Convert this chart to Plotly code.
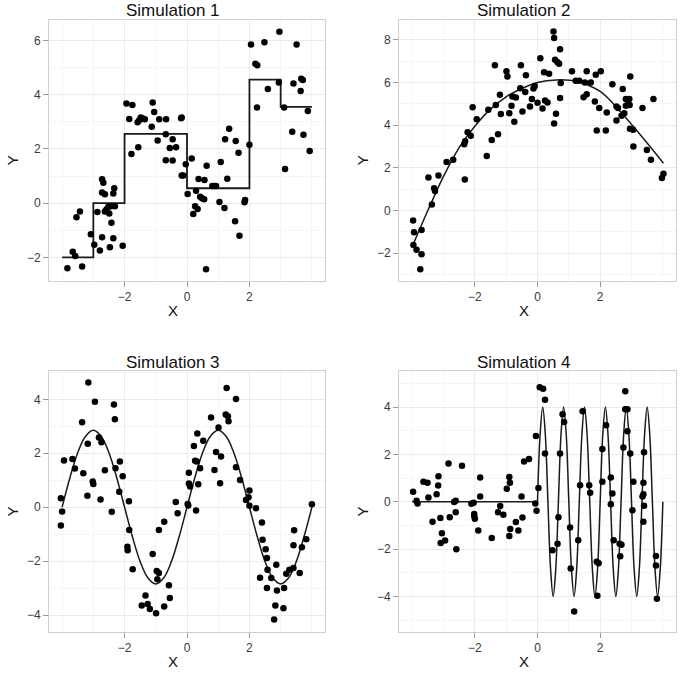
import plotly.graph_objects as go

# ---------------- Simulation 1 ----------------
s1_x = [-3.83, -3.66, -3.58, -3.54, -3.43, -3.36, -3.08, -2.97, -2.87, -2.79, -2.72, -2.68, -2.72, -2.63,
        -2.72, -2.63, -2.58, -2.52, -2.49, -2.47, -2.44, -2.42, -2.36, -2.33, -2.36, -2.31, -2.06,
        -1.94, -1.75, -1.85, -1.78, -1.58, -1.53, -1.48, -1.43, -1.35, -1.56, -1.13, -1.10, -1.05, -0.94,
        -0.89, -0.67, -0.68, -0.68, -0.55, -0.46, -0.46, -0.35, -0.19, -0.17, -0.17, -0.12, -0.04,
        0.02, 0.15, 0.20, 0.26, 0.29, 0.34, 0.37, 0.42, 0.48, 0.55, 0.56, 0.61, 0.63, 0.81, 0.87, 0.93,
        1.04, 1.08, 1.20, 1.22, 1.29, 1.35, 1.54, 1.56, 1.65, 1.68, 1.84, 1.86,
        2.00, 2.05, 2.19, 2.25, 2.24, 2.48, 2.59, 2.96, 2.94, 3.11, 3.14, 3.37, 3.41, 3.51, 3.64, 3.66,
        3.71, 3.73, 3.87, 3.93]
s1_y = [-2.40, -1.79, -1.95, -0.52, -0.31, -2.34, -1.15, -1.53, -0.33, -1.75, 0.88, 0.75, 0.39, 0.33,
        -1.26, -0.31, -0.23, -0.13, -0.38, -1.63, -0.11, -0.72, 0.36, 0.55, -1.29, -0.11, -1.57,
        3.67, 3.62, 3.10, 1.81, 2.98, 3.06, 3.16, 3.13, 3.09, 2.06, 2.82, 3.71, 3.36, 2.31,
        3.09, 3.09, 2.54, 1.58, 2.03, 2.36, 1.57, 2.06, 3.13, 3.16, 1.02, 1.02, 1.43,
        0.34, 1.65, -0.40, -0.11, 0.46, -0.22, 0.89, 0.24, 0.18, 0.14, 0.85, -2.44, 1.38, 0.63, 0.63, 0.63,
        0.04, 1.52, -0.18, 2.36, 0.90, 2.74, -0.67, 2.29, 1.86, -1.20, 0.03, 0.12,
        2.15, 5.85, 5.14, 5.08, 3.53, 5.93, 4.21, 6.32, 4.45, 3.53, 1.26, 2.63, 4.41, 5.85, 4.13, 4.59,
        4.54, 2.52, 3.40, 1.92]
s1_line_x = [-4.0, -3.0, -2.0, 0.0, 2.0, 3.0, 4.0]
s1_line_y = [-2.0, 0.0, 2.55, 0.55, 4.55, 3.55, 3.55]

# ---------------- Simulation 2 ----------------
s2_x = [-3.97, -3.94, -3.96, -3.86, -3.74, -3.70, -3.70, -3.48, -3.37, -3.30, -3.27, -3.16, -2.90, -2.69,
        -2.32, -2.34, -2.31, -2.23, -2.13, -2.07, -1.94, -1.62, -1.57, -1.46, -1.36, -1.33, -1.26, -1.20,
        -1.17, -0.99, -0.96, -0.90, -0.83, -0.80, -0.74, -0.69, -0.55, -0.53, -0.48, -0.39, -0.37, -0.24,
        -0.18, -0.13, -0.09, 0.00, 0.09, 0.16, 0.21, 0.24, 0.32, 0.37, 0.51, 0.53, 0.53, 0.59, 0.56, 0.64,
        0.69, 0.72, 0.72, 0.74, 1.10, 1.22, 1.33, 1.47, 1.51, 1.57, 1.57, 1.70, 1.83, 1.86, 1.89, 1.97,
        2.02, 2.18, 2.21, 2.39, 2.52, 2.52, 2.57, 2.68, 2.72, 2.77, 2.82, 2.82, 2.87, 2.93, 2.94, 2.96,
        2.95, 3.05, 3.06, 3.35, 3.49, 3.62, 3.70, 3.97, 4.02]
s2_y = [-0.47, -1.02, -1.61, -1.84, -2.75, -2.05, -0.91, 1.55, 0.28, 1.05, 0.92, 1.64, 2.28, 2.38,
        1.45, 3.11, 3.25, 3.67, 3.50, 4.84, 4.28, 2.56, 4.72, 3.31, 6.81, 4.95, 3.58, 5.42,
        4.52, 6.53, 6.28, 4.56, 4.91, 5.34, 4.16, 5.30, 5.73, 6.81, 4.64, 5.55, 6.34, 4.88,
        5.23, 5.72, 5.84, 5.05, 7.14, 4.78, 6.48, 5.16, 5.06, 6.41, 8.39, 8.08, 4.08, 4.53, 7.06, 6.95,
        6.88, 7.56, 5.27, 5.97, 6.52, 6.08, 6.08, 5.31, 6.00, 5.45, 6.52, 6.00, 5.11, 6.36, 3.75, 4.80,
        6.52, 3.75, 4.59, 5.92, 4.88, 4.22, 4.80, 4.44, 5.70, 4.56, 4.91, 5.23, 5.19, 5.23, 4.95, 6.28,
        3.83, 3.78, 3.00, 4.80, 2.84, 2.38, 5.23, 1.52, 1.72]
s2_line_x = [-3.96, -3.5, -3.0, -2.5, -2.0, -1.5, -1.0, -0.5, 0.0, 0.6, 1.25, 2.0, 2.64, 3.28, 4.02]
s2_line_y = [-1.56, 0.0, 1.6, 2.95, 3.95, 4.75, 5.33, 5.72, 6.0, 6.12, 6.05, 5.58, 4.64, 3.55, 2.22]

# ---------------- Simulation 3 ----------------
s3_x = [-4.04, -4.00, -4.04, -3.94, -3.67, -3.59, -3.36, -3.32, -3.19, -3.18, -3.16, -3.02, -3.00, -2.95,
        -2.82, -2.77, -2.74, -2.63, -2.41, -2.34, -2.31, -2.29, -2.15, -2.17, -2.06, -1.86, -1.85, -1.91,
        -1.90, -1.74, -1.45, -1.33, -1.26, -1.19, -1.10, -0.99, -0.97, -0.95, -0.90, -0.90, -0.73, -0.73,
        -0.58, -0.55, -0.36, -0.30, 0.02, 0.04, 0.06, 0.06, 0.10, 0.22, 0.26, 0.29, 0.31, 0.33, 0.36,
        0.42, 0.52, 0.77, 0.88, 0.93, 1.01, 1.06, 1.09, 1.24, 1.27, 1.31, 1.33, 1.57, 1.57, 1.70, 1.89,
        1.97, 2.00, 2.00, 2.21, 2.34, 2.40, 2.42, 2.52, 2.56, 2.58, 2.56, 2.70, 2.79, 2.83, 2.86, 2.88,
        3.09, 3.11, 3.18, 3.28, 3.41, 3.43, 3.41, 3.61, 3.68, 3.82, 4.00]
s3_y = [0.33, -0.16, -0.68, 1.73, 1.79, 1.43, 3.15, 1.26, 0.42, 2.35, 4.62, 0.95, 0.86, 3.91,
        2.58, 0.28, 2.41, 1.37, -0.17, 3.81, 3.26, 1.44, 1.69, 0.57, 1.15, 0.22, -0.85, -1.47,
        -1.60, -2.30, -3.65, -3.28, -3.59, -3.78, -1.74, -3.93, -2.37, -2.67, -2.44, -0.85, -3.68, -0.54,
        -2.90, -3.37, 0.19, -0.23, 0.12, 0.06, 1.28, 0.88, 0.77, 2.27, 1.72, -0.12, 1.69, 2.73, 0.85,
        1.44, 2.46, 3.33, 1.38, 2.05, 2.95, 0.89, 1.88, 3.44, 4.42, 3.37, 3.19, 4.01, 1.48, 1.01, 0.27,
        0.37, 0.62, 0.05, -0.04, -2.62, -0.57, -1.21, -1.56, -1.89, -2.32, -3.00, -2.63, -4.17, -3.65, -2.14, -3.09,
        -3.75, -3.00, -2.47, -2.32, -2.26, -0.86, -1.41, -2.44, -1.49, -1.19, 0.11]
s3_line_x = [-4.0, -3.75, -3.5, -3.25, -3.0, -2.75, -2.5, -2.25, -2.0, -1.75, -1.5, -1.25, -1.0, -0.75,
             -0.5, -0.25, 0.0, 0.25, 0.5, 0.75, 1.0, 1.25, 1.5, 1.75, 2.0, 2.25, 2.5, 2.75, 3.0, 3.25,
             3.5, 3.75, 4.0]
s3_line_y = [0.0, 1.09, 2.02, 2.63, 2.85, 2.63, 2.02, 1.09, 0.0, -1.09, -2.02, -2.63, -2.85, -2.63,
             -2.02, -1.09, 0.0, 1.09, 2.02, 2.63, 2.85, 2.63, 2.02, 1.09, 0.0, -1.09, -2.02, -2.63, -2.85, -2.63,
             -2.02, -1.09, 0.0]

# ---------------- Simulation 4 ----------------
s4_x = [-3.97, -3.86, -3.83, -3.64, -3.51, -3.48, -3.35, -3.22, -3.17, -3.16, -3.10, -3.05, -3.09, -2.95,
        -2.84, -2.80, -2.66, -2.61, -2.59, -2.61, -2.41, -2.11, -2.04, -2.02, -2.00, -2.02, -1.89, -1.83,
        -1.83, -1.46, -1.26, -1.19, -1.09, -0.98, -0.90, -0.88, -0.90, -0.87, -0.69, -0.61, -0.51, -0.48,
        -0.43, -0.27, -0.07, -0.05, -0.03, 0.03, 0.07, 0.18, 0.24, 0.24, 0.48, 0.64, 0.67, 0.72, 0.80,
        0.85, 1.04, 1.06, 1.17, 1.30, 1.36, 1.44, 1.65, 1.68, 1.89, 1.91, 1.95, 2.07, 2.07, 2.19, 2.34,
        2.34, 2.39, 2.43, 2.62, 2.68, 2.64, 2.74, 2.80, 2.80, 2.87, 2.87, 2.96, 3.03, 3.06, 3.35, 3.38,
        3.38, 3.40, 3.40, 3.38, 3.78, 3.78, 3.81]
s4_y = [0.42, 0.04, -0.07, 0.84, 0.80, 0.18, -0.84, 0.32, 0.69, 1.08, -0.69, -1.33, -1.74, -1.64,
        1.61, -0.65, -0.01, 0.04, -2.01, -0.44, 1.52, -0.08, -0.04, -0.52, -0.72, -0.60, -1.21, 1.02,
        0.22, -1.53, -0.44, -0.18, -0.55, 0.55, 1.04, 0.80, -1.45, -1.15, -0.86, -1.21, 0.22, -0.67,
        1.70, 1.80, -0.07, 2.78, -0.38, 0.58, 4.83, 4.77, 4.31, 2.04, -2.05, -1.77, -0.66, 2.04, 3.69,
        3.37, -1.09, -2.82, -4.63, -1.63, 0.70, 3.82, 0.70, 0.38, -2.53, -3.97, -2.60, 2.23, 0.84, 3.23, 1.02,
        -0.11, 0.35, -1.63, -1.77, -1.82, -2.30, 2.29, 4.66, 3.90, 3.90, 2.98, 2.04, -0.36, 0.84, 0.22, 0.32,
        0.80, 2.09, -0.17, -0.84, -2.29, -2.69, -4.10]
s4_flat_x = [-4.0, 0.0]
s4_flat_y = [0.0, 0.0]
s4_line_x = [0.0, 0.083, 0.167, 0.25, 0.333, 0.417, 0.5, 0.583, 0.667, 0.75, 0.833, 0.917, 1.0,
             1.083, 1.167, 1.25, 1.333, 1.417, 1.5, 1.583, 1.667, 1.75, 1.833, 1.917, 2.0,
             2.083, 2.167, 2.25, 2.333, 2.417, 2.5, 2.583, 2.667, 2.75, 2.833, 2.917, 3.0,
             3.083, 3.167, 3.25, 3.333, 3.417, 3.5, 3.583, 3.667, 3.75, 3.833, 3.917, 4.0]
s4_line_y = [0.0, 2.83, 4.0, 2.83, 0.0, -2.83, -4.0, -2.83, 0.0, 2.83, 4.0, 2.83, 0.0,
             -2.83, -4.0, -2.83, 0.0, 2.83, 4.0, 2.83, 0.0, -2.83, -4.0, -2.83, 0.0,
             2.83, 4.0, 2.83, 0.0, -2.83, -4.0, -2.83, 0.0, 2.83, 4.0, 2.83, 0.0,
             -2.83, -4.0, -2.83, 0.0, 2.83, 4.0, 2.83, 0.0, -2.83, -4.0, -2.83, 0.0]

titles = ["Simulation 1", "Simulation 2", "Simulation 3", "Simulation 4"]
x_ticks = [-2, 0, 2]
y_ticks = [[-2, 0, 2, 4, 6], [-2, 0, 2, 4, 6, 8], [-4, -2, 0, 2, 4], [-4, -2, 0, 2, 4]]
y_ranges = [[-2.87, 6.77], [-3.3, 8.95], [-4.63, 5.05], [-5.5, 5.52]]
x_range = [-4.42, 4.42]

W, H = 688, 682
# panel pixel boxes (left, right, top, bottom)
boxes = [(49, 325, 19.5, 281), (399, 676, 19.5, 281), (49, 325, 371, 632), (399, 676, 371, 632)]

FONT = "Liberation Sans, Arial, Helvetica, sans-serif"
fig = go.Figure()

pts = [(s1_x, s1_y), (s2_x, s2_y), (s3_x, s3_y), (s4_x, s4_y)]
lines = [(s1_line_x, s1_line_y, "hv"), (s2_line_x, s2_line_y, "spline"),
         (s3_line_x, s3_line_y, "spline"), (s4_line_x, s4_line_y, "spline")]

annotations = []
for i in range(4):
    xa = "x" if i == 0 else f"x{i+1}"
    ya = "y" if i == 0 else f"y{i+1}"
    lx, ly, shape = lines[i]
    if i == 3:
        fig.add_trace(go.Scatter(x=s4_flat_x, y=s4_flat_y, mode="lines", xaxis=xa, yaxis=ya,
                                 line=dict(color="#1a1a1a", width=1.5), hoverinfo="skip", showlegend=False))
    fig.add_trace(go.Scatter(x=lx, y=ly, mode="lines", xaxis=xa, yaxis=ya,
                             line=dict(color="#1a1a1a", width=1.5 if i else 1.8, shape=shape,
                                       smoothing=1.0 if shape == "spline" else None),
                             hoverinfo="skip", showlegend=False))
    px_, py_ = pts[i]
    fig.add_trace(go.Scatter(x=px_, y=py_, mode="markers", xaxis=xa, yaxis=ya,
                             marker=dict(color="black", size=6.5, line=dict(width=0)),
                             showlegend=False))

    l, r, t, b = boxes[i]
    xd = [l / W, r / W]
    yd = [1 - b / H, 1 - t / H]
    common = dict(showline=True, mirror=True, linecolor="#cfcfcf", linewidth=1,
                  showgrid=True, gridcolor="#ebebeb", gridwidth=1, zeroline=False,
                  ticks="outside", ticklen=5, tickcolor="#9a9a9a", tickwidth=1,
                  tickfont=dict(family=FONT, size=12, color="#3a3a3a"),
                  minor=dict(showgrid=True, gridcolor="#f5f5f5", gridwidth=1, dtick=1, tick0=0, ticks=""))
    xkey = "xaxis" if i == 0 else f"xaxis{i+1}"
    ykey = "yaxis" if i == 0 else f"yaxis{i+1}"
    fig.update_layout({
        xkey: dict(domain=xd, range=x_range, anchor=ya, tickvals=x_ticks,
                   ticktext=["\u22122" if v < 0 else str(v) for v in x_ticks], **common),
        ykey: dict(domain=yd, range=y_ranges[i], anchor=xa, tickvals=y_ticks[i],
                   ticktext=[("\u2212" + str(-v)) if v < 0 else str(v) for v in y_ticks[i]], **common),
    })
    cx = ((l + r) / 2 - 14) / W
    annotations.append(dict(text=titles[i], x=cx, y=1 - (t - 9) / H, xref="paper", yref="paper",
                            xanchor="center", yanchor="middle", showarrow=False,
                            font=dict(family=FONT, size=17, color="#111111")))
    annotations.append(dict(text="X", x=cx, y=1 - (b + 29) / H, xref="paper", yref="paper",
                            xanchor="center", yanchor="middle", showarrow=False,
                            font=dict(family=FONT, size=15, color="#111111")))
    annotations.append(dict(text="Y", x=(l - 37) / W, y=1 - ((t + b) / 2 + 10) / H, xref="paper", yref="paper",
                            xanchor="center", yanchor="middle", showarrow=False, textangle=-90,
                            font=dict(family=FONT, size=15, color="#111111")))

fig.update_layout(width=W, height=H, margin=dict(l=0, r=0, t=0, b=0),
                  paper_bgcolor="white", plot_bgcolor="white", annotations=annotations,
                  font=dict(family=FONT))

fig.write_html("out.html")
